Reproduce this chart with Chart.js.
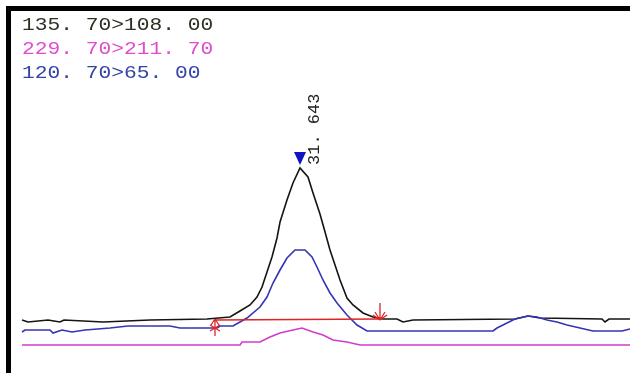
<!DOCTYPE html>
<html>
<head>
<meta charset="utf-8">
<script src="https://cdn.jsdelivr.net/npm/chart.js@4.4.1/dist/chart.umd.min.js"></script>
<style>
  html, body { margin: 0; padding: 0; background: #fff; }
  #wrap { width: 630px; height: 373px; position: relative; }
</style>
</head>
<body>
<div id="wrap"><canvas id="c" width="630" height="373"></canvas></div>
<script>
// MRM transitions (precursor > product, m/z)
const transitionLabels = ['135. 70>108. 00', '229. 70>211. 70', '120. 70>65. 00'];

// Retention time (min) / intensity for each transition trace
const time135 = [31.1797, 31.1897, 31.2230, 31.2430, 31.2497, 31.3147, 31.3930, 31.4880, 31.5263, 31.5430,
                 31.5597, 31.5713, 31.5797, 31.5880, 31.5963, 31.6047, 31.6097, 31.6213, 31.6313, 31.6430,
                 31.6563, 31.6647, 31.6763, 31.6847, 31.6930, 31.6997, 31.7097, 31.7213, 31.7313, 31.7480,
                 31.7647, 31.7813, 31.8047, 31.8147, 31.8313, 32.0013, 32.0230, 32.0430, 32.1463, 32.1513,
                 32.1580, 32.1930];
const int135  = [26500, 25500, 26500, 25500, 26500, 25500, 26500, 27000, 28000, 31000,
                 34000, 38000, 43000, 50500, 58000, 67500, 75500, 86500, 95000, 102500,
                 98000, 90000, 79500, 70500, 61500, 55500, 46500, 37500, 34000, 30000,
                 28000, 27000, 27000, 25500, 26500, 27000, 28500, 27500, 27000, 25500,
                 27000, 27000];

const time229 = [31.1797, 31.5430, 31.5463, 31.5763, 31.5930, 31.6097, 31.6313, 31.6463, 31.6647, 31.6813,
                 31.6980, 31.7213, 31.7430, 32.1930];
const int229  = [14000, 14000, 15500, 15500, 18000, 20000, 21500, 22500, 20500, 19000,
                 16500, 15500, 14000, 14000];

const time120 = [31.1797, 31.1847, 31.2263, 31.2313, 31.2463, 31.2630, 31.2847, 31.3263, 31.3563, 31.4263,
                 31.4430, 31.5047, 31.5097, 31.5313, 31.5547, 31.5763, 31.5880, 31.5980, 31.6097, 31.6213,
                 31.6347, 31.6513, 31.6630, 31.6713, 31.6813, 31.6930, 31.7047, 31.7213, 31.7380, 31.7547,
                 31.9647, 31.9713, 31.9880, 32.0013, 32.0230, 32.0380, 32.0547, 32.0713, 32.0880, 32.1097,
                 32.1313, 32.1797, 32.1930];
const int120  = [20500, 21500, 21500, 20000, 21500, 20500, 21500, 22500, 23500, 23500,
                 22500, 22500, 23500, 23500, 27500, 33000, 38000, 45000, 51500, 57500,
                 61500, 61500, 58000, 53000, 46500, 40000, 35000, 29000, 24000, 21000,
                 21000, 22500, 25000, 27000, 28500, 28000, 26500, 25500, 24000, 22500,
                 21000, 21000, 22000];

// Integration of the quantifier peak
const peakTime = 31.643;
const peakLabel = '31. 643';
const baselineStart = { t: 31.5013, v: 26500 };
const baselineEnd   = { t: 31.7763, v: 27000 };

// Visible window
const timeMin = 31.143, timeMax = 32.193;
const intMin = 0, intMax = 186500;

const colors = {
  t135: '#141414',
  t229: '#d23cce',
  t120: '#3434b4',
  text135: '#2e2e22',
  text229: '#e04ccc',
  text120: '#3444a4',
  integ: '#e02424',
  marker: '#1212c4'
};

const toPoints = (ts, vs) => ts.map((t, i) => ({ x: t, y: vs[i] }));

const chromPlugin = {
  id: 'chromOverlay',
  beforeDraw(chart) {
    const ctx = chart.ctx;
    ctx.save();
    ctx.fillStyle = '#ffffff';
    ctx.fillRect(0, 0, chart.width, chart.height);
    ctx.restore();
  },
  afterDatasetsDraw(chart) {
    const ctx = chart.ctx;
    const xs = chart.scales.x, ys = chart.scales.y;

    // integration baseline
    const x0 = xs.getPixelForValue(baselineStart.t), y0 = ys.getPixelForValue(baselineStart.v);
    const x1 = xs.getPixelForValue(baselineEnd.t),   y1 = ys.getPixelForValue(baselineEnd.v);
    ctx.save();
    ctx.strokeStyle = colors.integ;
    ctx.lineWidth = 1.5;
    ctx.beginPath();
    ctx.moveTo(x0, y0);
    ctx.lineTo(x1, y1);
    ctx.stroke();

    // start marker: up arrow with star
    ctx.lineWidth = 1.3;
    ctx.beginPath();
    ctx.moveTo(x0, y0 - 1); ctx.lineTo(x0, y0 + 16);
    ctx.moveTo(x0, y0 - 1); ctx.lineTo(x0 - 4, y0 + 5);
    ctx.moveTo(x0, y0 - 1); ctx.lineTo(x0 + 4, y0 + 5);
    ctx.moveTo(x0 - 5, y0 + 5); ctx.lineTo(x0 + 5, y0 + 11);
    ctx.moveTo(x0 - 5, y0 + 11); ctx.lineTo(x0 + 5, y0 + 5);
    ctx.stroke();

    // end marker: down arrow with star
    ctx.beginPath();
    ctx.moveTo(x1, y1 - 16); ctx.lineTo(x1, y1 + 1);
    ctx.moveTo(x1, y1 + 1); ctx.lineTo(x1 - 5, y1 - 7);
    ctx.moveTo(x1, y1 + 1); ctx.lineTo(x1 + 5, y1 - 7);
    ctx.moveTo(x1 - 7, y1 - 4); ctx.lineTo(x1, y1 + 1);
    ctx.moveTo(x1 + 7, y1 - 4); ctx.lineTo(x1, y1 + 1);
    ctx.stroke();
    ctx.restore();

    // apex marker
    const apexIdx = time135.indexOf(31.6430);
    const px = xs.getPixelForValue(peakTime);
    const py = ys.getPixelForValue(int135[apexIdx]);
    ctx.save();
    ctx.fillStyle = colors.marker;
    ctx.beginPath();
    ctx.moveTo(px - 6, py - 16);
    ctx.lineTo(px + 6, py - 16);
    ctx.lineTo(px, py - 3);
    ctx.closePath();
    ctx.fill();

    // retention time label, reading upward
    ctx.fillStyle = '#222222';
    ctx.font = '17px "Liberation Mono", "DejaVu Sans Mono", monospace';
    ctx.textAlign = 'left';
    ctx.textBaseline = 'alphabetic';
    ctx.translate(px + 19, py - 3);
    ctx.rotate(-Math.PI / 2);
    ctx.fillText(peakLabel, 0, 0);
    ctx.restore();

    // transition legend
    const textColors = [colors.text135, colors.text229, colors.text120];
    ctx.save();
    ctx.font = '18px "Liberation Mono", "DejaVu Sans Mono", monospace';
    ctx.textBaseline = 'alphabetic';
    ctx.textAlign = 'left';
    transitionLabels.forEach((label, i) => {
      ctx.save();
      ctx.fillStyle = textColors[i];
      ctx.translate(22, 30 + i * 24);
      ctx.scale(1.18, 1);
      ctx.fillText(label, 0, 0);
      ctx.restore();
    });
    ctx.restore();

    // window frame (top and left edges)
    ctx.save();
    ctx.fillStyle = '#000000';
    ctx.fillRect(6, 6, chart.width - 6, 5);
    ctx.fillRect(6, 6, 5, chart.height - 6);
    ctx.restore();
  }
};

new Chart(document.getElementById('c'), {
  type: 'line',
  data: {
    datasets: [
      { label: transitionLabels[1], data: toPoints(time229, int229), borderColor: colors.t229, order: 2 },
      { label: transitionLabels[0], data: toPoints(time135, int135), borderColor: colors.t135, order: 1 },
      { label: transitionLabels[2], data: toPoints(time120, int120), borderColor: colors.t120, order: 0 }
    ]
  },
  options: {
    responsive: false,
    animation: false,
    events: [],
    layout: { padding: 0 },
    elements: {
      line: { borderWidth: 1.6, tension: 0, fill: false },
      point: { radius: 0 }
    },
    scales: {
      x: { type: 'linear', min: timeMin, max: timeMax, display: false },
      y: { type: 'linear', min: intMin, max: intMax, display: false }
    },
    plugins: {
      legend: { display: false },
      tooltip: { enabled: false }
    }
  },
  plugins: [chromPlugin]
});
</script>
</body>
</html>
